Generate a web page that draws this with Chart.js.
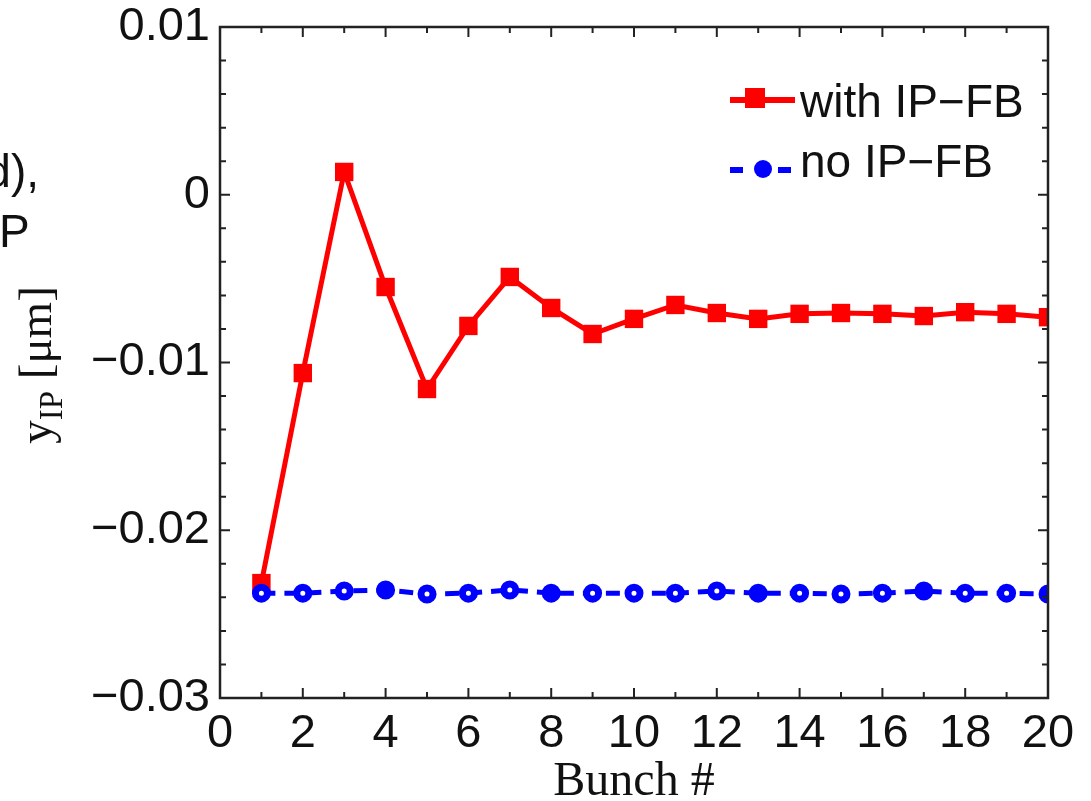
<!DOCTYPE html>
<html lang="en">
	<head>
		<meta charset="UTF-8" />
		<title>y_IP vs Bunch #</title>
		<script src="https://cdn.jsdelivr.net/npm/chart.js"></script>
		<style>
			body {
				margin: 0;
				background: white;
			}
			#chart {
				display: block;
			}
		</style>
	</head>
	<body>
		<canvas id="chart" width="1091" height="801"></canvas>

		<script>
			// values
			const bunches = [1, 2, 3, 4, 5, 6, 7, 8, 9, 10, 11, 12, 13, 14, 15, 16, 17, 18, 19, 20];
			const withFb = [
				-0.02315, -0.01063, 0.00136, -0.0055, -0.01158, -0.00782, -0.0049, -0.00675, -0.0083, -0.0074,
				-0.00657, -0.00705, -0.0074, -0.0071, -0.00705, -0.0071, -0.00723, -0.007, -0.0071, -0.0073,
			];
			const noFb = [
				-0.02375, -0.02375, -0.02362, -0.02356, -0.0238, -0.02375, -0.02356, -0.02375, -0.02375, -0.02375,
				-0.02375, -0.02362, -0.02375, -0.02375, -0.0238, -0.02375, -0.02362, -0.02375, -0.02375, -0.0238,
			];
			const xTicks = [0, 2, 4, 6, 8, 10, 12, 14, 16, 18, 20];
			const yTicks = [-0.03, -0.02, -0.01, 0, 0.01];

			const sans = "'Liberation Sans', Arial, sans-serif";
			const serif = "'Liberation Serif', 'Times New Roman', serif";

			function fmtY(v) {
				if (Math.abs(v) < 1e-9) return "0";
				return v.toFixed(2).replace("-", "\u2212");
			}

			// frame, inward ticks, titles, legend
			const decor = {
				id: "decor",
				afterDraw(chart) {
					const ctx = chart.ctx;
					const a = chart.chartArea;
					const xs = chart.scales.x;
					const ys = chart.scales.y;
					ctx.save();
					ctx.strokeStyle = "#222";
					ctx.lineWidth = 2;

					// ticks
					ctx.beginPath();
					for (let i = 0; i <= 20; i++) {
						const px = xs.getPixelForValue(i);
						const len = i % 2 === 0 ? 10 : 6;
						ctx.moveTo(px, a.bottom);
						ctx.lineTo(px, a.bottom - len);
						ctx.moveTo(px, a.top);
						ctx.lineTo(px, a.top + len);
					}
					for (let i = 0; i <= 20; i++) {
						const py = ys.getPixelForValue(-0.03 + i * 0.002);
						const len = i % 5 === 0 ? 10 : 6;
						ctx.moveTo(a.left, py);
						ctx.lineTo(a.left + len, py);
						ctx.moveTo(a.right, py);
						ctx.lineTo(a.right - len, py);
					}
					ctx.stroke();

					// frame
					ctx.lineWidth = 2.5;
					ctx.strokeRect(a.left, a.top, a.right - a.left, a.bottom - a.top);

					// x title
					ctx.fillStyle = "#111";
					ctx.font = "48px " + serif;
					ctx.textAlign = "center";
					ctx.textBaseline = "alphabetic";
					ctx.fillText("Bunch #", (a.left + a.right) / 2, 795);

					// y title with subscript
					ctx.save();
					ctx.translate(51, 365);
					ctx.rotate(-Math.PI / 2);
					ctx.textAlign = "left";
					ctx.font = "47px " + serif;
					const wy = ctx.measureText("y").width;
					const wRest = ctx.measureText(" [\u03bcm]").width;
					ctx.font = "33px " + serif;
					const wSub = ctx.measureText("IP").width;
					let x0 = -(wy + wSub + wRest) / 2;
					ctx.font = "47px " + serif;
					ctx.fillText("y", x0, 0);
					ctx.font = "33px " + serif;
					ctx.fillText("IP", x0 + wy, 11);
					ctx.font = "47px " + serif;
					ctx.fillText(" [\u03bcm]", x0 + wy + wSub, 0);
					ctx.restore();

					// leftover slide text on the left edge
					ctx.font = "46px " + sans;
					ctx.textAlign = "right";
					ctx.fillText("d),", 39, 187);
					ctx.textAlign = "left";
					ctx.fillText("P", -1, 247);

					// legend
					ctx.strokeStyle = "#ff0000";
					ctx.lineWidth = 6;
					ctx.beginPath();
					ctx.moveTo(730, 100);
					ctx.lineTo(795, 100);
					ctx.stroke();
					ctx.fillStyle = "#ff0000";
					ctx.fillRect(745, 88, 20, 20);

					ctx.strokeStyle = "#0000ff";
					ctx.beginPath();
					ctx.moveTo(730, 170);
					ctx.lineTo(743, 170);
					ctx.moveTo(778, 170);
					ctx.lineTo(791, 170);
					ctx.stroke();
					ctx.fillStyle = "#0000ff";
					ctx.beginPath();
					ctx.arc(763, 169, 9, 0, Math.PI * 2);
					ctx.fill();

					ctx.fillStyle = "#111";
					ctx.font = "46px " + sans;
					ctx.textAlign = "left";
					ctx.fillText("with IP\u2212FB", 800, 117);
					ctx.fillText("no IP\u2212FB", 800, 177);
					ctx.restore();
				},
			};

			const filled = "#0000ff";
			const hollow = "#ffffff";

			new Chart(document.getElementById("chart"), {
				type: "line",
				data: {
					datasets: [
						{
							label: "with IP\u2212FB",
							data: bunches.map((b, i) => ({ x: b, y: withFb[i] })),
							borderColor: "#ff0000",
							backgroundColor: "#ff0000",
							borderWidth: 5,
							pointStyle: "rect",
							pointRadius: 13,
							pointBorderWidth: 0,
							tension: 0,
							order: 2,
						},
						{
							label: "no IP\u2212FB",
							data: bunches.map((b, i) => ({ x: b, y: noFb[i] })),
							borderColor: "#0000ff",
							borderWidth: 5,
							borderDash: [14, 9],
							pointStyle: "circle",
							pointRadius: 6,
							pointBorderWidth: 7,
							pointBorderColor: "#0000ff",
							pointBackgroundColor: [
								hollow, hollow, hollow, filled, hollow, hollow, hollow, filled, hollow, hollow,
								hollow, hollow, filled, hollow, hollow, hollow, filled, hollow, hollow, filled,
							],
							tension: 0,
							order: 1,
						},
					],
				},
				options: {
					responsive: false,
					animation: false,
					layout: { padding: { left: 0, top: 27, right: 43, bottom: 0 } },
					plugins: {
						legend: { display: false },
						tooltip: { enabled: false },
					},
					scales: {
						x: {
							type: "linear",
							min: 0,
							max: 20,
							afterFit(scale) {
								scale.height = 103;
								scale.paddingLeft = 0;
								scale.paddingRight = 0;
							},
							afterBuildTicks(scale) {
								scale.ticks = xTicks.map((v) => ({ value: v }));
							},
							grid: { display: false, drawTicks: false },
							border: { display: false },
							ticks: {
								color: "#111",
								padding: 8,
								maxRotation: 0,
								font: { family: sans, size: 47 },
							},
						},
						y: {
							type: "linear",
							min: -0.03,
							max: 0.01,
							afterFit(scale) {
								scale.width = 220;
								scale.paddingTop = 0;
								scale.paddingBottom = 0;
							},
							afterBuildTicks(scale) {
								scale.ticks = yTicks.map((v) => ({ value: v }));
							},
							grid: { display: false, drawTicks: false },
							border: { display: false },
							ticks: {
								color: "#111",
								padding: 10,
								callback: fmtY,
								font: { family: sans, size: 47 },
							},
						},
					},
				},
				plugins: [decor],
			});
		</script>
	</body>
</html>
